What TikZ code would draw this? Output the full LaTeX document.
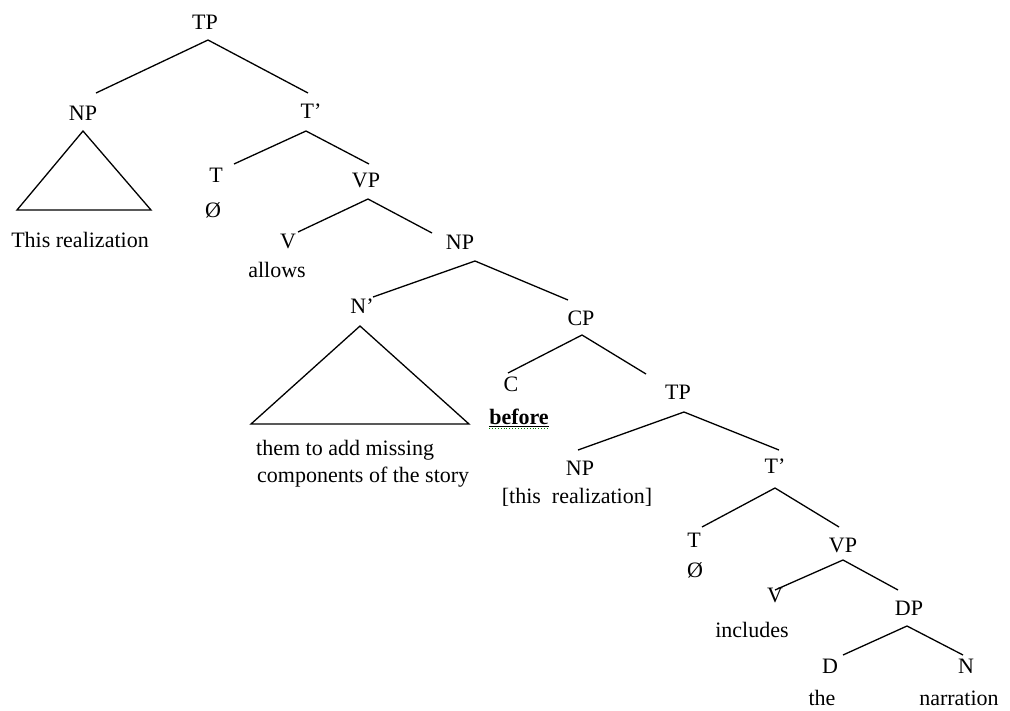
\documentclass[tikz,border=0pt]{standalone}
\usepackage{fontspec}
\setmainfont{Liberation Serif}
\begin{document}
\begin{tikzpicture}[x=1pt,y=-1pt,
  lbl/.style={anchor=base,inner sep=0pt,font=\fontsize{22}{27}\selectfont},
  lblw/.style={lbl,anchor=base west},
  edge/.style={line width=1.3pt,line join=miter}]
\useasboundingbox (0,0) rectangle (1010,710);
% labels
\node[lbl] (TP1) at (205,29) {TP};
\node[lbl] (NP1) at (83,120) {NP};
\node[lbl] (NP1t) at (80,247) {This realization};
\node[lbl] (Tb1) at (311,118) {T’};
\node[lbl] (T1) at (216,182) {T};
\node[lbl] (T1t) at (213,217) {Ø};
\node[lbl] (VP1) at (366,187) {VP};
\node[lbl] (V1) at (288,248) {V};
\node[lbl] (V1t) at (277,277) {allows};
\node[lbl] (NP2) at (460,249) {NP};
\node[lbl] (Nb) at (362,313) {N’};
\node[lblw] (Nbt1) at (256,455) {them to add missing};
\node[lblw] (Nbt2) at (257,482) {components of the story};
\node[lbl] (CP) at (581,325) {CP};
\node[lbl] (C) at (511,391) {C};
\node[lbl,font=\fontsize{22}{27}\selectfont\bfseries] (Ct) at (519,424) {before};
\node[lbl] (TP2) at (678,399) {TP};
\node[lbl] (NP3) at (580,475) {NP};
\node[lbl] (NP3t) at (577,503) {[this\ \ realization]};
\node[lbl] (Tb2) at (775,473) {T’};
\node[lbl] (T2) at (694,547) {T};
\node[lbl] (T2t) at (695,577) {Ø};
\node[lbl] (VP2) at (843,552) {VP};
\node[lbl] (V2) at (775,602) {V};
\node[lbl] (V2t) at (752,637) {includes};
\node[lbl] (DP) at (909,615) {DP};
\node[lbl] (D) at (830,673) {D};
\node[lbl] (N) at (966,673) {N};
\node[lbl] (Dt) at (822,705) {the};
\node[lbl] (Nt) at (959,705) {narration};
% underline of "before"
\draw[line width=1pt] ([yshift=-2.5pt]Ct.base west) -- ([yshift=-2.5pt]Ct.base east);
\draw[green!50!black,line width=0.9pt,dotted] ([yshift=-4.8pt]Ct.base west) -- ([yshift=-4.8pt]Ct.base east);
% connector points
\coordinate (TP1s) at (208,40);
\coordinate (NP1n) at (96,93);
\coordinate (Tb1n) at (308,93);
\coordinate (NP1a) at (83,131);
\coordinate (NP1l) at (17,210);
\coordinate (NP1r) at (151,210);
\coordinate (Tb1s) at (306,131);
\coordinate (T1n) at (234,164);
\coordinate (VP1n) at (369,164);
\coordinate (VP1s) at (368,199);
\coordinate (V1n) at (298,232);
\coordinate (NP2n) at (432,233);
\coordinate (NP2s) at (475,261);
\coordinate (Nbn) at (373,297);
\coordinate (CPn) at (568,300);
\coordinate (Nba) at (360,326);
\coordinate (Nbl) at (251,424);
\coordinate (Nbr) at (469,424);
\coordinate (CPs) at (582,335);
\coordinate (Cn) at (508,373);
\coordinate (TP2n) at (646,374);
\coordinate (TP2s) at (684,412);
\coordinate (NP3n) at (578,450);
\coordinate (Tb2n) at (779,450);
\coordinate (Tb2s) at (775,488);
\coordinate (T2n) at (702,527);
\coordinate (VP2n) at (839,527);
\coordinate (VP2s) at (843,560);
\coordinate (V2n) at (775,590);
\coordinate (DPn) at (898,590);
\coordinate (DPs) at (907,626);
\coordinate (Dn) at (843,655);
\coordinate (Nn) at (963,655);
% connectors
\draw[edge] (NP1n) -- (TP1s) -- (Tb1n);
\draw[edge] (NP1a) -- (NP1l) -- (NP1r) -- cycle;
\draw[edge] (T1n) -- (Tb1s) -- (VP1n);
\draw[edge] (V1n) -- (VP1s) -- (NP2n);
\draw[edge] (Nbn) -- (NP2s) -- (CPn);
\draw[edge] (Nba) -- (Nbl) -- (Nbr) -- cycle;
\draw[edge] (Cn) -- (CPs) -- (TP2n);
\draw[edge] (NP3n) -- (TP2s) -- (Tb2n);
\draw[edge] (T2n) -- (Tb2s) -- (VP2n);
\draw[edge] (V2n) -- (VP2s) -- (DPn);
\draw[edge] (Dn) -- (DPs) -- (Nn);
\end{tikzpicture}
\end{document}
